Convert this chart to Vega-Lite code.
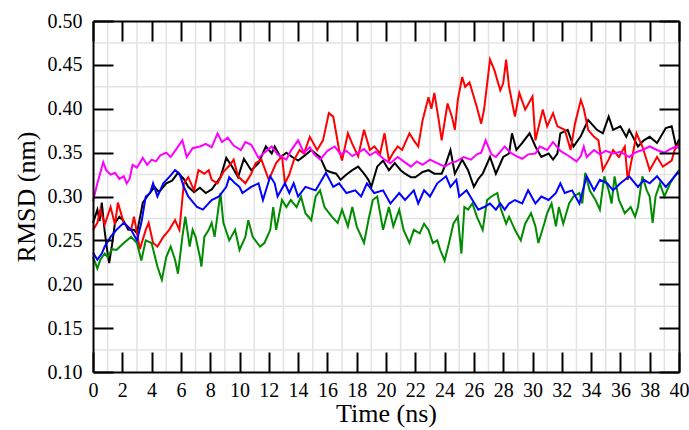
{
  "$schema": "https://vega.github.io/schema/vega-lite/v6.json",
  "width": 586,
  "height": 351,
  "autosize": {"type": "none"},
  "padding": {"left": 93, "top": 21, "right": 10, "bottom": 58},
  "config": {
    "view": {"stroke": null},
    "font": "Liberation Serif",
    "axis": {"labelFont": "Liberation Serif", "titleFont": "Liberation Serif", "labelColor": "#000000", "titleColor": "#000000", "domainColor": "#000000", "tickColor": "#000000", "domainWidth": 2, "tickWidth": 2, "titleFontWeight": "normal", "grid": false, "ticks": true, "labelFlush": false, "labelOverlap": false}
  },
  "datasets": {
    "gx": [{"gx":1},{"gx":3},{"gx":5},{"gx":7},{"gx":9},{"gx":11},{"gx":13},{"gx":15},{"gx":17},{"gx":19},{"gx":21},{"gx":23},{"gx":25},{"gx":27},{"gx":29},{"gx":31},{"gx":33},{"gx":35},{"gx":37},{"gx":39}],
    "gy": [{"gy":0.125},{"gy":0.175},{"gy":0.225},{"gy":0.275},{"gy":0.325},{"gy":0.375},{"gy":0.425},{"gy":0.475}],
    "rmsd": [
{"time":0.0,"rmsd":0.270,"run":"s1"},{"time":0.3,"rmsd":0.285,"run":"s1"},{"time":0.45,"rmsd":0.272,"run":"s1"},{"time":0.6,"rmsd":0.293,"run":"s1"},{"time":0.8,"rmsd":0.260,"run":"s1"},{"time":1.0,"rmsd":0.235,"run":"s1"},{"time":1.1,"rmsd":0.224,"run":"s1"},{"time":1.3,"rmsd":0.245,"run":"s1"},{"time":1.5,"rmsd":0.270,"run":"s1"},{"time":1.8,"rmsd":0.277,"run":"s1"},{"time":2.1,"rmsd":0.272,"run":"s1"},{"time":2.4,"rmsd":0.262,"run":"s1"},{"time":2.8,"rmsd":0.262,"run":"s1"},{"time":3.0,"rmsd":0.258,"run":"s1"},{"time":3.4,"rmsd":0.293,"run":"s1"},{"time":3.7,"rmsd":0.300,"run":"s1"},{"time":4.2,"rmsd":0.311,"run":"s1"},{"time":4.5,"rmsd":0.305,"run":"s1"},{"time":5.0,"rmsd":0.315,"run":"s1"},{"time":5.4,"rmsd":0.318,"run":"s1"},{"time":5.8,"rmsd":0.327,"run":"s1"},{"time":6.2,"rmsd":0.320,"run":"s1"},{"time":6.5,"rmsd":0.311,"run":"s1"},{"time":6.9,"rmsd":0.305,"run":"s1"},{"time":7.3,"rmsd":0.310,"run":"s1"},{"time":7.7,"rmsd":0.304,"run":"s1"},{"time":8.1,"rmsd":0.308,"run":"s1"},{"time":8.7,"rmsd":0.322,"run":"s1"},{"time":9.1,"rmsd":0.344,"run":"s1"},{"time":9.5,"rmsd":0.334,"run":"s1"},{"time":9.9,"rmsd":0.322,"run":"s1"},{"time":10.3,"rmsd":0.343,"run":"s1"},{"time":10.8,"rmsd":0.330,"run":"s1"},{"time":11.3,"rmsd":0.338,"run":"s1"},{"time":11.8,"rmsd":0.357,"run":"s1"},{"time":12.2,"rmsd":0.349,"run":"s1"},{"time":12.4,"rmsd":0.357,"run":"s1"},{"time":12.8,"rmsd":0.345,"run":"s1"},{"time":13.2,"rmsd":0.350,"run":"s1"},{"time":13.6,"rmsd":0.345,"run":"s1"},{"time":14.0,"rmsd":0.341,"run":"s1"},{"time":14.4,"rmsd":0.346,"run":"s1"},{"time":14.9,"rmsd":0.353,"run":"s1"},{"time":15.5,"rmsd":0.345,"run":"s1"},{"time":15.9,"rmsd":0.330,"run":"s1"},{"time":16.2,"rmsd":0.328,"run":"s1"},{"time":16.6,"rmsd":0.326,"run":"s1"},{"time":16.9,"rmsd":0.319,"run":"s1"},{"time":17.3,"rmsd":0.325,"run":"s1"},{"time":17.7,"rmsd":0.330,"run":"s1"},{"time":18.1,"rmsd":0.334,"run":"s1"},{"time":18.5,"rmsd":0.326,"run":"s1"},{"time":18.8,"rmsd":0.319,"run":"s1"},{"time":19.0,"rmsd":0.311,"run":"s1"},{"time":19.4,"rmsd":0.334,"run":"s1"},{"time":19.8,"rmsd":0.341,"run":"s1"},{"time":20.2,"rmsd":0.330,"run":"s1"},{"time":20.6,"rmsd":0.338,"run":"s1"},{"time":21.0,"rmsd":0.330,"run":"s1"},{"time":21.3,"rmsd":0.326,"run":"s1"},{"time":21.7,"rmsd":0.322,"run":"s1"},{"time":22.0,"rmsd":0.322,"run":"s1"},{"time":22.5,"rmsd":0.328,"run":"s1"},{"time":22.9,"rmsd":0.330,"run":"s1"},{"time":23.3,"rmsd":0.326,"run":"s1"},{"time":23.8,"rmsd":0.326,"run":"s1"},{"time":24.1,"rmsd":0.338,"run":"s1"},{"time":24.4,"rmsd":0.353,"run":"s1"},{"time":24.7,"rmsd":0.326,"run":"s1"},{"time":25.2,"rmsd":0.342,"run":"s1"},{"time":25.6,"rmsd":0.330,"run":"s1"},{"time":26.0,"rmsd":0.311,"run":"s1"},{"time":26.3,"rmsd":0.320,"run":"s1"},{"time":26.6,"rmsd":0.326,"run":"s1"},{"time":27.1,"rmsd":0.345,"run":"s1"},{"time":27.5,"rmsd":0.326,"run":"s1"},{"time":28.0,"rmsd":0.345,"run":"s1"},{"time":28.4,"rmsd":0.349,"run":"s1"},{"time":28.6,"rmsd":0.372,"run":"s1"},{"time":28.9,"rmsd":0.353,"run":"s1"},{"time":29.3,"rmsd":0.361,"run":"s1"},{"time":29.8,"rmsd":0.372,"run":"s1"},{"time":30.2,"rmsd":0.357,"run":"s1"},{"time":30.6,"rmsd":0.345,"run":"s1"},{"time":31.1,"rmsd":0.349,"run":"s1"},{"time":31.4,"rmsd":0.342,"run":"s1"},{"time":31.7,"rmsd":0.349,"run":"s1"},{"time":31.9,"rmsd":0.372,"run":"s1"},{"time":32.4,"rmsd":0.376,"run":"s1"},{"time":32.8,"rmsd":0.357,"run":"s1"},{"time":33.3,"rmsd":0.369,"run":"s1"},{"time":33.8,"rmsd":0.387,"run":"s1"},{"time":34.4,"rmsd":0.376,"run":"s1"},{"time":34.8,"rmsd":0.372,"run":"s1"},{"time":35.2,"rmsd":0.391,"run":"s1"},{"time":35.5,"rmsd":0.376,"run":"s1"},{"time":36.0,"rmsd":0.380,"run":"s1"},{"time":36.4,"rmsd":0.368,"run":"s1"},{"time":36.6,"rmsd":0.376,"run":"s1"},{"time":37.2,"rmsd":0.357,"run":"s1"},{"time":37.6,"rmsd":0.364,"run":"s1"},{"time":38.0,"rmsd":0.368,"run":"s1"},{"time":38.5,"rmsd":0.361,"run":"s1"},{"time":39.1,"rmsd":0.378,"run":"s1"},{"time":39.5,"rmsd":0.380,"run":"s1"},{"time":39.8,"rmsd":0.357,"run":"s1"},{"time":40.0,"rmsd":0.365,"run":"s1"},
{"time":0.0,"rmsd":0.262,"run":"s2"},{"time":0.3,"rmsd":0.270,"run":"s2"},{"time":0.5,"rmsd":0.285,"run":"s2"},{"time":0.8,"rmsd":0.268,"run":"s2"},{"time":1.2,"rmsd":0.288,"run":"s2"},{"time":1.5,"rmsd":0.268,"run":"s2"},{"time":1.7,"rmsd":0.293,"run":"s2"},{"time":2.1,"rmsd":0.270,"run":"s2"},{"time":2.6,"rmsd":0.262,"run":"s2"},{"time":2.8,"rmsd":0.277,"run":"s2"},{"time":3.2,"rmsd":0.240,"run":"s2"},{"time":3.6,"rmsd":0.262,"run":"s2"},{"time":3.8,"rmsd":0.270,"run":"s2"},{"time":4.1,"rmsd":0.247,"run":"s2"},{"time":4.4,"rmsd":0.243,"run":"s2"},{"time":4.8,"rmsd":0.254,"run":"s2"},{"time":5.2,"rmsd":0.262,"run":"s2"},{"time":5.6,"rmsd":0.273,"run":"s2"},{"time":5.9,"rmsd":0.262,"run":"s2"},{"time":6.2,"rmsd":0.315,"run":"s2"},{"time":6.5,"rmsd":0.322,"run":"s2"},{"time":6.9,"rmsd":0.307,"run":"s2"},{"time":7.2,"rmsd":0.330,"run":"s2"},{"time":7.6,"rmsd":0.326,"run":"s2"},{"time":7.9,"rmsd":0.330,"run":"s2"},{"time":8.1,"rmsd":0.319,"run":"s2"},{"time":8.5,"rmsd":0.315,"run":"s2"},{"time":8.9,"rmsd":0.328,"run":"s2"},{"time":9.3,"rmsd":0.335,"run":"s2"},{"time":9.6,"rmsd":0.342,"run":"s2"},{"time":9.9,"rmsd":0.323,"run":"s2"},{"time":10.4,"rmsd":0.315,"run":"s2"},{"time":10.8,"rmsd":0.326,"run":"s2"},{"time":11.1,"rmsd":0.338,"run":"s2"},{"time":11.5,"rmsd":0.342,"run":"s2"},{"time":12.0,"rmsd":0.319,"run":"s2"},{"time":12.5,"rmsd":0.338,"run":"s2"},{"time":12.9,"rmsd":0.346,"run":"s2"},{"time":13.1,"rmsd":0.315,"run":"s2"},{"time":13.4,"rmsd":0.325,"run":"s2"},{"time":13.7,"rmsd":0.341,"run":"s2"},{"time":14.1,"rmsd":0.353,"run":"s2"},{"time":14.4,"rmsd":0.349,"run":"s2"},{"time":14.8,"rmsd":0.368,"run":"s2"},{"time":15.3,"rmsd":0.353,"run":"s2"},{"time":15.7,"rmsd":0.364,"run":"s2"},{"time":16.1,"rmsd":0.395,"run":"s2"},{"time":16.4,"rmsd":0.391,"run":"s2"},{"time":16.8,"rmsd":0.353,"run":"s2"},{"time":17.0,"rmsd":0.341,"run":"s2"},{"time":17.4,"rmsd":0.372,"run":"s2"},{"time":17.7,"rmsd":0.360,"run":"s2"},{"time":18.1,"rmsd":0.346,"run":"s2"},{"time":18.5,"rmsd":0.376,"run":"s2"},{"time":18.9,"rmsd":0.353,"run":"s2"},{"time":19.2,"rmsd":0.357,"run":"s2"},{"time":19.6,"rmsd":0.349,"run":"s2"},{"time":19.9,"rmsd":0.372,"run":"s2"},{"time":20.2,"rmsd":0.341,"run":"s2"},{"time":20.5,"rmsd":0.350,"run":"s2"},{"time":20.8,"rmsd":0.357,"run":"s2"},{"time":21.1,"rmsd":0.353,"run":"s2"},{"time":21.6,"rmsd":0.372,"run":"s2"},{"time":21.9,"rmsd":0.364,"run":"s2"},{"time":22.2,"rmsd":0.357,"run":"s2"},{"time":22.5,"rmsd":0.387,"run":"s2"},{"time":22.9,"rmsd":0.413,"run":"s2"},{"time":23.1,"rmsd":0.400,"run":"s2"},{"time":23.3,"rmsd":0.418,"run":"s2"},{"time":23.6,"rmsd":0.387,"run":"s2"},{"time":23.8,"rmsd":0.364,"run":"s2"},{"time":24.2,"rmsd":0.406,"run":"s2"},{"time":24.5,"rmsd":0.391,"run":"s2"},{"time":24.7,"rmsd":0.376,"run":"s2"},{"time":24.9,"rmsd":0.410,"run":"s2"},{"time":25.2,"rmsd":0.436,"run":"s2"},{"time":25.4,"rmsd":0.425,"run":"s2"},{"time":25.7,"rmsd":0.430,"run":"s2"},{"time":26.2,"rmsd":0.402,"run":"s2"},{"time":26.5,"rmsd":0.383,"run":"s2"},{"time":26.7,"rmsd":0.400,"run":"s2"},{"time":27.1,"rmsd":0.456,"run":"s2"},{"time":27.4,"rmsd":0.444,"run":"s2"},{"time":27.8,"rmsd":0.421,"run":"s2"},{"time":28.0,"rmsd":0.429,"run":"s2"},{"time":28.2,"rmsd":0.456,"run":"s2"},{"time":28.4,"rmsd":0.425,"run":"s2"},{"time":28.8,"rmsd":0.391,"run":"s2"},{"time":29.1,"rmsd":0.418,"run":"s2"},{"time":29.5,"rmsd":0.399,"run":"s2"},{"time":30.0,"rmsd":0.414,"run":"s2"},{"time":30.2,"rmsd":0.364,"run":"s2"},{"time":30.7,"rmsd":0.399,"run":"s2"},{"time":31.0,"rmsd":0.380,"run":"s2"},{"time":31.4,"rmsd":0.395,"run":"s2"},{"time":31.7,"rmsd":0.380,"run":"s2"},{"time":32.2,"rmsd":0.376,"run":"s2"},{"time":32.6,"rmsd":0.353,"run":"s2"},{"time":32.9,"rmsd":0.383,"run":"s2"},{"time":33.3,"rmsd":0.410,"run":"s2"},{"time":33.5,"rmsd":0.400,"run":"s2"},{"time":33.8,"rmsd":0.376,"run":"s2"},{"time":34.2,"rmsd":0.368,"run":"s2"},{"time":34.5,"rmsd":0.364,"run":"s2"},{"time":34.8,"rmsd":0.330,"run":"s2"},{"time":35.2,"rmsd":0.342,"run":"s2"},{"time":35.5,"rmsd":0.353,"run":"s2"},{"time":35.9,"rmsd":0.345,"run":"s2"},{"time":36.3,"rmsd":0.357,"run":"s2"},{"time":36.5,"rmsd":0.319,"run":"s2"},{"time":36.9,"rmsd":0.353,"run":"s2"},{"time":37.1,"rmsd":0.372,"run":"s2"},{"time":37.5,"rmsd":0.357,"run":"s2"},{"time":37.8,"rmsd":0.341,"run":"s2"},{"time":38.0,"rmsd":0.330,"run":"s2"},{"time":38.5,"rmsd":0.345,"run":"s2"},{"time":38.9,"rmsd":0.334,"run":"s2"},{"time":39.5,"rmsd":0.341,"run":"s2"},{"time":39.7,"rmsd":0.353,"run":"s2"},{"time":40.0,"rmsd":0.360,"run":"s2"},
{"time":0.0,"rmsd":0.231,"run":"s3"},{"time":0.3,"rmsd":0.218,"run":"s3"},{"time":0.5,"rmsd":0.228,"run":"s3"},{"time":0.8,"rmsd":0.235,"run":"s3"},{"time":1.0,"rmsd":0.231,"run":"s3"},{"time":1.3,"rmsd":0.240,"run":"s3"},{"time":1.6,"rmsd":0.239,"run":"s3"},{"time":2.1,"rmsd":0.247,"run":"s3"},{"time":2.6,"rmsd":0.254,"run":"s3"},{"time":3.0,"rmsd":0.247,"run":"s3"},{"time":3.3,"rmsd":0.227,"run":"s3"},{"time":3.6,"rmsd":0.250,"run":"s3"},{"time":4.0,"rmsd":0.247,"run":"s3"},{"time":4.4,"rmsd":0.220,"run":"s3"},{"time":4.7,"rmsd":0.205,"run":"s3"},{"time":5.0,"rmsd":0.231,"run":"s3"},{"time":5.3,"rmsd":0.243,"run":"s3"},{"time":5.6,"rmsd":0.228,"run":"s3"},{"time":5.8,"rmsd":0.212,"run":"s3"},{"time":6.1,"rmsd":0.254,"run":"s3"},{"time":6.3,"rmsd":0.277,"run":"s3"},{"time":6.6,"rmsd":0.243,"run":"s3"},{"time":6.8,"rmsd":0.262,"run":"s3"},{"time":7.0,"rmsd":0.254,"run":"s3"},{"time":7.3,"rmsd":0.231,"run":"s3"},{"time":7.4,"rmsd":0.220,"run":"s3"},{"time":7.6,"rmsd":0.254,"run":"s3"},{"time":7.9,"rmsd":0.262,"run":"s3"},{"time":8.1,"rmsd":0.270,"run":"s3"},{"time":8.3,"rmsd":0.254,"run":"s3"},{"time":8.7,"rmsd":0.304,"run":"s3"},{"time":8.9,"rmsd":0.270,"run":"s3"},{"time":9.3,"rmsd":0.250,"run":"s3"},{"time":9.7,"rmsd":0.262,"run":"s3"},{"time":10.0,"rmsd":0.239,"run":"s3"},{"time":10.4,"rmsd":0.254,"run":"s3"},{"time":10.6,"rmsd":0.273,"run":"s3"},{"time":10.9,"rmsd":0.254,"run":"s3"},{"time":11.4,"rmsd":0.243,"run":"s3"},{"time":11.7,"rmsd":0.247,"run":"s3"},{"time":12.1,"rmsd":0.262,"run":"s3"},{"time":12.3,"rmsd":0.288,"run":"s3"},{"time":12.5,"rmsd":0.262,"run":"s3"},{"time":12.9,"rmsd":0.296,"run":"s3"},{"time":13.2,"rmsd":0.288,"run":"s3"},{"time":13.5,"rmsd":0.296,"run":"s3"},{"time":13.9,"rmsd":0.288,"run":"s3"},{"time":14.2,"rmsd":0.300,"run":"s3"},{"time":14.5,"rmsd":0.281,"run":"s3"},{"time":14.9,"rmsd":0.273,"run":"s3"},{"time":15.2,"rmsd":0.300,"run":"s3"},{"time":15.5,"rmsd":0.307,"run":"s3"},{"time":15.8,"rmsd":0.288,"run":"s3"},{"time":16.3,"rmsd":0.277,"run":"s3"},{"time":16.7,"rmsd":0.270,"run":"s3"},{"time":17.0,"rmsd":0.285,"run":"s3"},{"time":17.4,"rmsd":0.266,"run":"s3"},{"time":17.7,"rmsd":0.288,"run":"s3"},{"time":18.0,"rmsd":0.266,"run":"s3"},{"time":18.5,"rmsd":0.247,"run":"s3"},{"time":18.8,"rmsd":0.273,"run":"s3"},{"time":19.1,"rmsd":0.296,"run":"s3"},{"time":19.4,"rmsd":0.300,"run":"s3"},{"time":19.8,"rmsd":0.262,"run":"s3"},{"time":20.2,"rmsd":0.288,"run":"s3"},{"time":20.5,"rmsd":0.266,"run":"s3"},{"time":20.9,"rmsd":0.285,"run":"s3"},{"time":21.2,"rmsd":0.262,"run":"s3"},{"time":21.6,"rmsd":0.247,"run":"s3"},{"time":21.9,"rmsd":0.262,"run":"s3"},{"time":22.3,"rmsd":0.258,"run":"s3"},{"time":22.6,"rmsd":0.269,"run":"s3"},{"time":22.9,"rmsd":0.262,"run":"s3"},{"time":23.2,"rmsd":0.247,"run":"s3"},{"time":23.5,"rmsd":0.250,"run":"s3"},{"time":23.7,"rmsd":0.239,"run":"s3"},{"time":24.0,"rmsd":0.227,"run":"s3"},{"time":24.3,"rmsd":0.247,"run":"s3"},{"time":24.6,"rmsd":0.269,"run":"s3"},{"time":24.9,"rmsd":0.277,"run":"s3"},{"time":25.15,"rmsd":0.235,"run":"s3"},{"time":25.35,"rmsd":0.288,"run":"s3"},{"time":25.6,"rmsd":0.285,"run":"s3"},{"time":25.9,"rmsd":0.292,"run":"s3"},{"time":26.2,"rmsd":0.277,"run":"s3"},{"time":26.6,"rmsd":0.262,"run":"s3"},{"time":26.9,"rmsd":0.296,"run":"s3"},{"time":27.2,"rmsd":0.300,"run":"s3"},{"time":27.6,"rmsd":0.304,"run":"s3"},{"time":27.8,"rmsd":0.288,"run":"s3"},{"time":28.2,"rmsd":0.269,"run":"s3"},{"time":28.4,"rmsd":0.277,"run":"s3"},{"time":28.8,"rmsd":0.262,"run":"s3"},{"time":29.2,"rmsd":0.250,"run":"s3"},{"time":29.5,"rmsd":0.269,"run":"s3"},{"time":29.9,"rmsd":0.281,"run":"s3"},{"time":30.2,"rmsd":0.266,"run":"s3"},{"time":30.4,"rmsd":0.247,"run":"s3"},{"time":30.8,"rmsd":0.269,"run":"s3"},{"time":31.0,"rmsd":0.281,"run":"s3"},{"time":31.3,"rmsd":0.292,"run":"s3"},{"time":31.6,"rmsd":0.266,"run":"s3"},{"time":31.8,"rmsd":0.288,"run":"s3"},{"time":32.1,"rmsd":0.269,"run":"s3"},{"time":32.5,"rmsd":0.292,"run":"s3"},{"time":32.8,"rmsd":0.300,"run":"s3"},{"time":33.2,"rmsd":0.304,"run":"s3"},{"time":33.4,"rmsd":0.292,"run":"s3"},{"time":33.6,"rmsd":0.327,"run":"s3"},{"time":33.9,"rmsd":0.307,"run":"s3"},{"time":34.3,"rmsd":0.296,"run":"s3"},{"time":34.6,"rmsd":0.285,"run":"s3"},{"time":34.9,"rmsd":0.323,"run":"s3"},{"time":35.2,"rmsd":0.307,"run":"s3"},{"time":35.4,"rmsd":0.292,"run":"s3"},{"time":35.6,"rmsd":0.323,"run":"s3"},{"time":35.9,"rmsd":0.296,"run":"s3"},{"time":36.3,"rmsd":0.281,"run":"s3"},{"time":36.7,"rmsd":0.288,"run":"s3"},{"time":37.0,"rmsd":0.277,"run":"s3"},{"time":37.2,"rmsd":0.288,"run":"s3"},{"time":37.5,"rmsd":0.323,"run":"s3"},{"time":37.8,"rmsd":0.307,"run":"s3"},{"time":38.0,"rmsd":0.300,"run":"s3"},{"time":38.2,"rmsd":0.270,"run":"s3"},{"time":38.4,"rmsd":0.300,"run":"s3"},{"time":38.7,"rmsd":0.315,"run":"s3"},{"time":39.0,"rmsd":0.300,"run":"s3"},{"time":39.4,"rmsd":0.315,"run":"s3"},{"time":39.7,"rmsd":0.323,"run":"s3"},{"time":40.0,"rmsd":0.330,"run":"s3"},
{"time":0.0,"rmsd":0.236,"run":"s4"},{"time":0.3,"rmsd":0.228,"run":"s4"},{"time":0.6,"rmsd":0.235,"run":"s4"},{"time":0.8,"rmsd":0.243,"run":"s4"},{"time":1.2,"rmsd":0.254,"run":"s4"},{"time":1.6,"rmsd":0.262,"run":"s4"},{"time":2.1,"rmsd":0.270,"run":"s4"},{"time":2.6,"rmsd":0.262,"run":"s4"},{"time":3.0,"rmsd":0.250,"run":"s4"},{"time":3.3,"rmsd":0.270,"run":"s4"},{"time":3.6,"rmsd":0.300,"run":"s4"},{"time":3.9,"rmsd":0.304,"run":"s4"},{"time":4.1,"rmsd":0.315,"run":"s4"},{"time":4.4,"rmsd":0.300,"run":"s4"},{"time":4.8,"rmsd":0.315,"run":"s4"},{"time":5.2,"rmsd":0.322,"run":"s4"},{"time":5.6,"rmsd":0.330,"run":"s4"},{"time":5.9,"rmsd":0.326,"run":"s4"},{"time":6.2,"rmsd":0.311,"run":"s4"},{"time":6.5,"rmsd":0.300,"run":"s4"},{"time":7.1,"rmsd":0.288,"run":"s4"},{"time":7.5,"rmsd":0.285,"run":"s4"},{"time":8.1,"rmsd":0.296,"run":"s4"},{"time":8.6,"rmsd":0.300,"run":"s4"},{"time":9.1,"rmsd":0.311,"run":"s4"},{"time":9.3,"rmsd":0.322,"run":"s4"},{"time":9.7,"rmsd":0.315,"run":"s4"},{"time":10.0,"rmsd":0.311,"run":"s4"},{"time":10.2,"rmsd":0.304,"run":"s4"},{"time":10.8,"rmsd":0.311,"run":"s4"},{"time":11.3,"rmsd":0.315,"run":"s4"},{"time":11.6,"rmsd":0.296,"run":"s4"},{"time":12.1,"rmsd":0.323,"run":"s4"},{"time":12.4,"rmsd":0.315,"run":"s4"},{"time":12.6,"rmsd":0.300,"run":"s4"},{"time":13.1,"rmsd":0.315,"run":"s4"},{"time":13.4,"rmsd":0.304,"run":"s4"},{"time":13.7,"rmsd":0.315,"run":"s4"},{"time":14.0,"rmsd":0.300,"run":"s4"},{"time":14.5,"rmsd":0.311,"run":"s4"},{"time":15.2,"rmsd":0.307,"run":"s4"},{"time":15.9,"rmsd":0.327,"run":"s4"},{"time":16.4,"rmsd":0.311,"run":"s4"},{"time":16.8,"rmsd":0.315,"run":"s4"},{"time":17.3,"rmsd":0.304,"run":"s4"},{"time":17.9,"rmsd":0.307,"run":"s4"},{"time":18.3,"rmsd":0.300,"run":"s4"},{"time":18.7,"rmsd":0.315,"run":"s4"},{"time":19.2,"rmsd":0.304,"run":"s4"},{"time":19.8,"rmsd":0.307,"run":"s4"},{"time":20.3,"rmsd":0.292,"run":"s4"},{"time":20.9,"rmsd":0.304,"run":"s4"},{"time":21.3,"rmsd":0.296,"run":"s4"},{"time":21.9,"rmsd":0.307,"run":"s4"},{"time":22.2,"rmsd":0.292,"run":"s4"},{"time":22.6,"rmsd":0.307,"run":"s4"},{"time":23.0,"rmsd":0.300,"run":"s4"},{"time":23.5,"rmsd":0.315,"run":"s4"},{"time":24.1,"rmsd":0.323,"run":"s4"},{"time":24.4,"rmsd":0.311,"run":"s4"},{"time":24.8,"rmsd":0.319,"run":"s4"},{"time":25.0,"rmsd":0.300,"run":"s4"},{"time":25.5,"rmsd":0.307,"run":"s4"},{"time":25.9,"rmsd":0.296,"run":"s4"},{"time":26.3,"rmsd":0.285,"run":"s4"},{"time":26.7,"rmsd":0.288,"run":"s4"},{"time":27.1,"rmsd":0.292,"run":"s4"},{"time":27.5,"rmsd":0.285,"run":"s4"},{"time":27.8,"rmsd":0.292,"run":"s4"},{"time":28.1,"rmsd":0.285,"run":"s4"},{"time":28.4,"rmsd":0.292,"run":"s4"},{"time":28.8,"rmsd":0.296,"run":"s4"},{"time":29.3,"rmsd":0.292,"run":"s4"},{"time":29.7,"rmsd":0.307,"run":"s4"},{"time":30.2,"rmsd":0.292,"run":"s4"},{"time":30.6,"rmsd":0.300,"run":"s4"},{"time":31.1,"rmsd":0.296,"run":"s4"},{"time":31.6,"rmsd":0.304,"run":"s4"},{"time":31.9,"rmsd":0.315,"run":"s4"},{"time":32.2,"rmsd":0.304,"run":"s4"},{"time":32.7,"rmsd":0.307,"run":"s4"},{"time":33.2,"rmsd":0.292,"run":"s4"},{"time":33.7,"rmsd":0.323,"run":"s4"},{"time":34.2,"rmsd":0.307,"run":"s4"},{"time":34.6,"rmsd":0.319,"run":"s4"},{"time":35.1,"rmsd":0.315,"run":"s4"},{"time":35.5,"rmsd":0.307,"run":"s4"},{"time":36.0,"rmsd":0.315,"run":"s4"},{"time":36.6,"rmsd":0.323,"run":"s4"},{"time":37.2,"rmsd":0.311,"run":"s4"},{"time":37.6,"rmsd":0.319,"run":"s4"},{"time":38.0,"rmsd":0.315,"run":"s4"},{"time":38.5,"rmsd":0.323,"run":"s4"},{"time":39.1,"rmsd":0.311,"run":"s4"},{"time":39.5,"rmsd":0.319,"run":"s4"},{"time":39.9,"rmsd":0.327,"run":"s4"},{"time":40.0,"rmsd":0.326,"run":"s4"},
{"time":0.0,"rmsd":0.295,"run":"s5"},{"time":0.3,"rmsd":0.315,"run":"s5"},{"time":0.7,"rmsd":0.339,"run":"s5"},{"time":0.9,"rmsd":0.330,"run":"s5"},{"time":1.2,"rmsd":0.325,"run":"s5"},{"time":1.5,"rmsd":0.327,"run":"s5"},{"time":1.8,"rmsd":0.320,"run":"s5"},{"time":2.1,"rmsd":0.323,"run":"s5"},{"time":2.3,"rmsd":0.315,"run":"s5"},{"time":2.5,"rmsd":0.320,"run":"s5"},{"time":2.7,"rmsd":0.336,"run":"s5"},{"time":3.0,"rmsd":0.333,"run":"s5"},{"time":3.4,"rmsd":0.344,"run":"s5"},{"time":3.7,"rmsd":0.336,"run":"s5"},{"time":4.0,"rmsd":0.342,"run":"s5"},{"time":4.3,"rmsd":0.340,"run":"s5"},{"time":4.6,"rmsd":0.347,"run":"s5"},{"time":5.0,"rmsd":0.350,"run":"s5"},{"time":5.3,"rmsd":0.345,"run":"s5"},{"time":5.6,"rmsd":0.352,"run":"s5"},{"time":6.1,"rmsd":0.364,"run":"s5"},{"time":6.4,"rmsd":0.345,"run":"s5"},{"time":6.8,"rmsd":0.355,"run":"s5"},{"time":7.3,"rmsd":0.357,"run":"s5"},{"time":7.7,"rmsd":0.360,"run":"s5"},{"time":8.1,"rmsd":0.356,"run":"s5"},{"time":8.5,"rmsd":0.372,"run":"s5"},{"time":8.8,"rmsd":0.362,"run":"s5"},{"time":9.2,"rmsd":0.367,"run":"s5"},{"time":9.6,"rmsd":0.358,"run":"s5"},{"time":10.1,"rmsd":0.353,"run":"s5"},{"time":10.4,"rmsd":0.362,"run":"s5"},{"time":10.8,"rmsd":0.359,"run":"s5"},{"time":11.3,"rmsd":0.344,"run":"s5"},{"time":11.7,"rmsd":0.350,"run":"s5"},{"time":12.2,"rmsd":0.357,"run":"s5"},{"time":12.6,"rmsd":0.348,"run":"s5"},{"time":13.2,"rmsd":0.342,"run":"s5"},{"time":13.5,"rmsd":0.352,"run":"s5"},{"time":14.0,"rmsd":0.364,"run":"s5"},{"time":14.4,"rmsd":0.350,"run":"s5"},{"time":14.8,"rmsd":0.356,"run":"s5"},{"time":15.1,"rmsd":0.348,"run":"s5"},{"time":15.5,"rmsd":0.342,"run":"s5"},{"time":16.0,"rmsd":0.352,"run":"s5"},{"time":16.5,"rmsd":0.357,"run":"s5"},{"time":16.9,"rmsd":0.348,"run":"s5"},{"time":17.3,"rmsd":0.352,"run":"s5"},{"time":17.7,"rmsd":0.346,"run":"s5"},{"time":18.1,"rmsd":0.350,"run":"s5"},{"time":18.5,"rmsd":0.354,"run":"s5"},{"time":18.9,"rmsd":0.347,"run":"s5"},{"time":19.3,"rmsd":0.351,"run":"s5"},{"time":19.9,"rmsd":0.342,"run":"s5"},{"time":20.3,"rmsd":0.338,"run":"s5"},{"time":20.8,"rmsd":0.345,"run":"s5"},{"time":21.2,"rmsd":0.340,"run":"s5"},{"time":21.7,"rmsd":0.334,"run":"s5"},{"time":22.1,"rmsd":0.340,"run":"s5"},{"time":22.5,"rmsd":0.336,"run":"s5"},{"time":23.0,"rmsd":0.342,"run":"s5"},{"time":23.5,"rmsd":0.338,"run":"s5"},{"time":24.0,"rmsd":0.334,"run":"s5"},{"time":24.4,"rmsd":0.338,"run":"s5"},{"time":24.8,"rmsd":0.340,"run":"s5"},{"time":25.3,"rmsd":0.345,"run":"s5"},{"time":25.8,"rmsd":0.342,"run":"s5"},{"time":26.2,"rmsd":0.348,"run":"s5"},{"time":26.5,"rmsd":0.350,"run":"s5"},{"time":26.8,"rmsd":0.364,"run":"s5"},{"time":27.2,"rmsd":0.348,"run":"s5"},{"time":27.5,"rmsd":0.345,"run":"s5"},{"time":28.1,"rmsd":0.357,"run":"s5"},{"time":28.5,"rmsd":0.350,"run":"s5"},{"time":28.9,"rmsd":0.346,"run":"s5"},{"time":29.3,"rmsd":0.343,"run":"s5"},{"time":29.7,"rmsd":0.348,"run":"s5"},{"time":30.2,"rmsd":0.349,"run":"s5"},{"time":30.5,"rmsd":0.357,"run":"s5"},{"time":31.0,"rmsd":0.353,"run":"s5"},{"time":31.4,"rmsd":0.362,"run":"s5"},{"time":31.9,"rmsd":0.352,"run":"s5"},{"time":32.4,"rmsd":0.347,"run":"s5"},{"time":33.0,"rmsd":0.340,"run":"s5"},{"time":33.3,"rmsd":0.346,"run":"s5"},{"time":33.5,"rmsd":0.357,"run":"s5"},{"time":33.7,"rmsd":0.345,"run":"s5"},{"time":34.2,"rmsd":0.353,"run":"s5"},{"time":34.6,"rmsd":0.348,"run":"s5"},{"time":35.0,"rmsd":0.352,"run":"s5"},{"time":35.5,"rmsd":0.349,"run":"s5"},{"time":36.0,"rmsd":0.351,"run":"s5"},{"time":36.6,"rmsd":0.345,"run":"s5"},{"time":37.0,"rmsd":0.350,"run":"s5"},{"time":37.5,"rmsd":0.353,"run":"s5"},{"time":38.0,"rmsd":0.357,"run":"s5"},{"time":38.5,"rmsd":0.353,"run":"s5"},{"time":39.0,"rmsd":0.350,"run":"s5"},{"time":39.4,"rmsd":0.354,"run":"s5"},{"time":39.8,"rmsd":0.357,"run":"s5"},{"time":40.0,"rmsd":0.355,"run":"s5"}
    ]
  },
  "layer": [
    {
      "data": {"name": "gx"},
      "mark": {"type": "rule", "color": "#e3e3e3", "strokeWidth": 1.5},
      "encoding": {
        "x": {"field": "gx", "type": "quantitative", "scale": {"domain": [0, 40], "nice": false, "zero": false},
          "axis": {"orient": "top", "values": [0,2,4,6,8,10,12,14,16,18,20,22,24,26,28,30,32,34,36,38,40], "labels": false, "title": null, "tickSize": -20, "zindex": 1}}
      }
    },
    {
      "data": {"name": "gy"},
      "mark": {"type": "rule", "color": "#e3e3e3", "strokeWidth": 1.5},
      "encoding": {
        "y": {"field": "gy", "type": "quantitative", "scale": {"domain": [0.1, 0.5], "nice": false, "zero": false},
          "axis": {"orient": "right", "values": [0.1,0.15,0.2,0.25,0.3,0.35,0.4,0.45,0.5], "labels": false, "title": null, "tickSize": -20, "zindex": 1}}
      }
    },
    {
      "data": {"name": "rmsd"},
      "mark": {"type": "line", "strokeWidth": 2, "interpolate": "linear"},
      "encoding": {
        "x": {"field": "time", "type": "quantitative", "scale": {"domain": [0, 40], "nice": false, "zero": false},
          "axis": {"orient": "bottom", "values": [0,2,4,6,8,10,12,14,16,18,20,22,24,26,28,30,32,34,36,38,40], "format": "d", "tickSize": -20, "labelPadding": 28, "labelFontSize": 20, "title": "Time (ns)", "titleFontSize": 26, "titlePadding": 0, "zindex": 1}},
        "y": {"field": "rmsd", "type": "quantitative", "scale": {"domain": [0.1, 0.5], "nice": false, "zero": false},
          "axis": {"orient": "left", "values": [0.1,0.15,0.2,0.25,0.3,0.35,0.4,0.45,0.5], "format": ".2f", "tickSize": -20, "labelPadding": 31, "labelFontSize": 20, "title": "RMSD (nm)", "titleFontSize": 26, "titlePadding": 8, "zindex": 1}},
        "color": {"field": "run", "type": "nominal", "legend": null,
          "scale": {"domain": ["s1","s2","s3","s4","s5"], "range": ["#000000","#ff0000","#008b00","#0000ff","#ff00ff"]}}
      }
    }
  ],
  "resolve": {"axis": {"x": "independent", "y": "independent"}}
}
